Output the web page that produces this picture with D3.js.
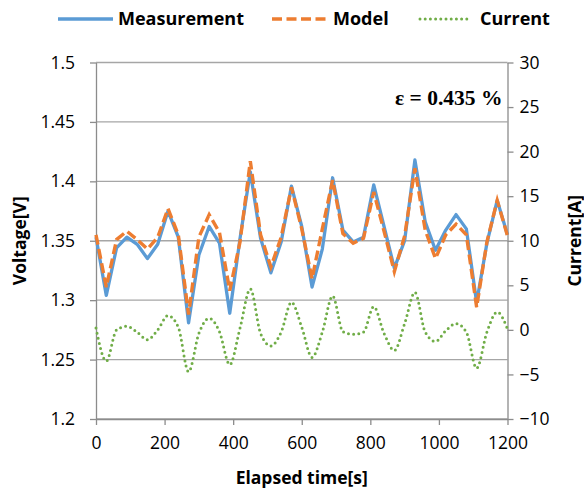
<!DOCTYPE html>
<html>
  <head>
    <meta charset="utf-8">
    <title></title>
    <script src="https://cdnjs.cloudflare.com/ajax/libs/d3/7.8.5/d3.min.js"></script>
    <style>
      body { margin: 0; background: #fff; }
    </style>
  </head>
  <body>
    <script type="text/javascript">

    let outerWidth = 584;
    let outerHeight = 489;
    let margin = { left: 96, top: 62.5, right: 76.5, bottom: 70 }

    // elapsed time [s]
    let time = [0, 30, 60, 90, 120, 150, 180, 210, 240, 270, 300, 330, 360, 390, 420, 450, 480, 510, 540, 570, 600,
      630, 660, 690, 720, 750, 780, 810, 840, 870, 900, 930, 960, 990, 1020, 1050, 1080, 1110, 1140, 1170, 1200];
    // voltage [V]
    let measurement = [1.353, 1.304, 1.344, 1.353, 1.347, 1.335, 1.347, 1.375, 1.353, 1.281, 1.338, 1.362, 1.348, 1.289,
      1.352, 1.408, 1.352, 1.323, 1.349, 1.396, 1.362, 1.311, 1.343, 1.403, 1.359, 1.349, 1.353, 1.397, 1.362, 1.327,
      1.350, 1.418, 1.366, 1.342, 1.359, 1.372, 1.360, 1.298, 1.348, 1.384, 1.355];
    let model = [1.355, 1.311, 1.351, 1.358, 1.351, 1.343, 1.353, 1.377, 1.355, 1.288, 1.353, 1.372, 1.357, 1.308,
      1.349, 1.417, 1.355, 1.328, 1.353, 1.395, 1.360, 1.318, 1.360, 1.401, 1.356, 1.348, 1.352, 1.391, 1.358, 1.324,
      1.354, 1.411, 1.359, 1.335, 1.355, 1.364, 1.355, 1.294, 1.349, 1.384, 1.354];
    // current [A]
    let current = [0.2, -3.5, 0, 0.4, -0.25, -1.1, 0, 1.6, 0.3, -4.7, -0.4, 1.3, -0.2, -3.9, 0.2, 4.6, -0.4, -1.8,
      -0.25, 3.1, 0.3, -3.1, -0.25, 3.8, -0.2, -0.5, -0.25, 2.6, -0.4, -2.3, 0.7, 4.2, -0.25, -1.3, -0.1, 0.7, -0.25,
      -4.3, -0.25, 2.0, 0.1];

    let xTicks = [0, 200, 400, 600, 800, 1000, 1200];
    let voltTicks = [1.2, 1.25, 1.3, 1.35, 1.4, 1.45, 1.5];
    let currTicks = [-10, -5, 0, 5, 10, 15, 20, 25, 30];
    let errorLabel = "ε = 0.435 %";

    let font = "'Open Sans', sans-serif";

    let innerWidth = outerWidth - margin.left - margin.right;
    let innerHeight = outerHeight - margin.top - margin.bottom;

    let svg = d3.select("body").append("svg")
      .attr("width", outerWidth)
      .attr("height", outerHeight)
      .attr("font-family", font)

    let g = svg.append("g")
      .attr("transform", "translate(" + margin.left + "," + margin.top + ")");

    let xScale = d3.scaleLinear().domain([0, 1200]).range([0, innerWidth]);
    let yScale = d3.scaleLinear().domain([1.2, 1.5]).range([innerHeight, 0]);
    let y2Scale = d3.scaleLinear().domain([-10, 30]).range([innerHeight, 0]);

    // horizontal gridlines
    g.selectAll(".grid").data(voltTicks).enter().append("line")
      .attr("x1", 0).attr("x2", innerWidth)
      .attr("y1", d => yScale(d)).attr("y2", d => yScale(d))
      .attr("stroke", "#a6a6a6").attr("stroke-width", 1.3);

    function styleAxis(sel) {
      sel.attr("font-family", font).attr("font-size", 17.5);
      sel.select(".domain").attr("stroke", "#8c8c8c").attr("stroke-width", 1.3);
      sel.selectAll(".tick line").attr("stroke", "#8c8c8c").attr("stroke-width", 1.3);
      sel.selectAll(".tick text").attr("fill", "#000");
    }

    g.append("g")
      .attr("transform", "translate(0," + innerHeight + ")")
      .call(d3.axisBottom(xScale).tickValues(xTicks).tickFormat(d3.format("d")).tickSize(6).tickPadding(12).tickSizeOuter(0))
      .call(styleAxis);

    g.append("g")
      .call(d3.axisLeft(yScale).tickValues(voltTicks).tickFormat(d3.format("")).tickSize(6).tickPadding(15).tickSizeOuter(0))
      .call(styleAxis);

    g.append("g")
      .attr("transform", "translate(" + innerWidth + ",0)")
      .call(d3.axisRight(y2Scale).tickValues(currTicks).tickSize(6).tickPadding(6).tickSizeOuter(0))
      .call(styleAxis);

    let rows = time.map((t, i) => ({ t: t, m: measurement[i], p: model[i], c: current[i] }));

    let lineMeas = d3.line().x(d => xScale(d.t)).y(d => yScale(d.m));
    let lineModel = d3.line().x(d => xScale(d.t)).y(d => yScale(d.p));
    let lineCurr = d3.line().x(d => xScale(d.t)).y(d => y2Scale(d.c)).curve(d3.curveMonotoneX);

    g.append("path").attr("d", lineCurr(rows))
      .attr("fill", "none").attr("stroke", "#70ad47").attr("stroke-width", 3)
      .attr("stroke-linecap", "round").attr("stroke-dasharray", "0 5.2");

    g.append("path").attr("d", lineMeas(rows))
      .attr("fill", "none").attr("stroke", "#5b9bd5").attr("stroke-width", 3.3)
      .attr("stroke-linejoin", "round");

    g.append("path").attr("d", lineModel(rows))
      .attr("fill", "none").attr("stroke", "#ed7d31").attr("stroke-width", 3.4)
      .attr("stroke-dasharray", "10 4.5");

    g.append("text")
      .attr("x", innerWidth - 5).attr("y", 42)
      .attr("text-anchor", "end")
      .attr("font-family", "'Liberation Serif', serif")
      .attr("font-weight", "bold").attr("font-size", 21.5)
      .text(errorLabel);

    // axis titles
    svg.append("text")
      .attr("transform", "translate(26," + (margin.top + innerHeight / 2) + ") rotate(-90)")
      .attr("text-anchor", "middle")
      .attr("font-weight", "bold").attr("font-size", 17.5)
      .text("Voltage[V]");

    svg.append("text")
      .attr("transform", "translate(581," + (margin.top + innerHeight / 2) + ") rotate(-90)")
      .attr("text-anchor", "middle")
      .attr("font-weight", "bold").attr("font-size", 17.5)
      .text("Current[A]");

    svg.append("text")
      .attr("x", margin.left + innerWidth / 2).attr("y", 484)
      .attr("text-anchor", "middle")
      .attr("font-weight", "bold").attr("font-size", 17.5)
      .text("Elapsed time[s]");

    // legend
    let legend = [
      { name: "Measurement", color: "#5b9bd5", dash: null, x1: 58, x2: 113, tx: 118 },
      { name: "Model", color: "#ed7d31", dash: "10 4.5", x1: 272, x2: 330, tx: 333 },
      { name: "Current", color: "#70ad47", dash: "0 5.2", x1: 420, x2: 470, tx: 480 }
    ];
    legend.forEach(l => {
      svg.append("line")
        .attr("x1", l.x1).attr("x2", l.x2).attr("y1", 19).attr("y2", 19)
        .attr("stroke", l.color).attr("stroke-width", l.name == "Current" ? 3 : 3.3)
        .attr("stroke-linecap", l.name == "Current" ? "round" : "butt")
        .attr("stroke-dasharray", l.dash);
      svg.append("text")
        .attr("x", l.tx).attr("y", 25)
        .attr("font-weight", "bold").attr("font-size", 18)
        .text(l.name);
    });

    </script>
  </body>
</html>
